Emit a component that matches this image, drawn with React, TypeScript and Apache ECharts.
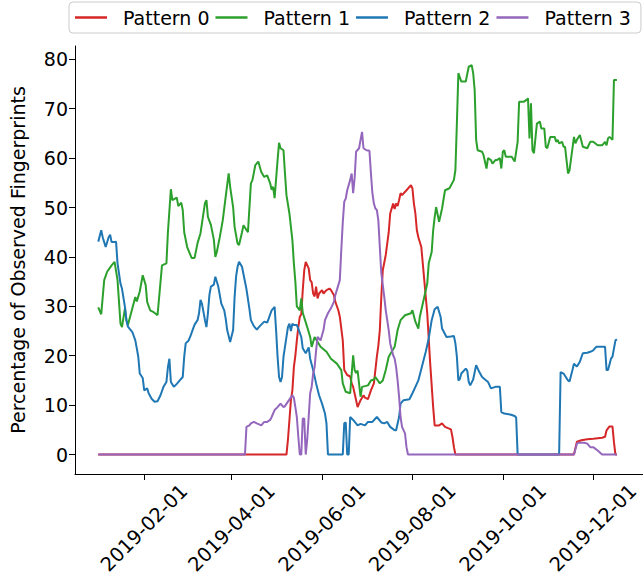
import React, { useEffect, useRef } from "react";
import * as echarts from "echarts";

const DAY_MS = 86400000;
const START = Date.UTC(2019, 0, 1);

const seriesNames = ["Pattern 0", "Pattern 1", "Pattern 2", "Pattern 3"];
const seriesColors = ["#d62728", "#2ca02c", "#1f77b4", "#9467bd"];
const xTickLabels = ["2019-02-01", "2019-04-01", "2019-06-01", "2019-08-01", "2019-10-01", "2019-12-01"];
const yTicks = [0, 10, 20, 30, 40, 50, 60, 70, 80];
const yTitle = "Percentage of Observed Fingerprints";

// [day of year (0 = 2019-01-01), percent]
const pattern0 = [[0,0],[127,0],[128,3],[129,7],[130,11],[131,13],[132,17.7],[133,20],[134,23.1],[135,25.8],[136,27.9],[137,28.4],[138,33.3],[139,37.3],[140,39],[142,37.7],[143,35.3],[144,34.9],[145,32.6],[146,32],[147,34],[148,31.6],[149,32.6],[151,33.3],[152,32.6],[154,33.3],[156,33.6],[157,33.3],[159,32.3],[160,30.9],[162,29.2],[163,27.9],[165,23.1],[166,17.1],[168,16.1],[170,15.8],[171,14.4],[172,13.7],[174,11],[175,9.6],[177,11],[179,12],[180,11.5],[182,11.2],[184,13],[186,14.4],[187,17.1],[188,19.8],[189,22],[190,25.2],[191,31.9],[192,37.3],[194,40.4],[195,42.7],[196,45],[197,48.8],[199,50.8],[200,49.7],[201,50.8],[202,50.3],[203,51.5],[204,52.9],[205,52.5],[208,53.5],[210,54.2],[211,54.5],[212,53.9],[213,50.8],[214,48.8],[215,45.4],[216,44],[218,42],[220,35.3],[222,28.6],[224,18.4],[226,9.6],[227,5.9],[230,5.9],[232,6.3],[234,5.6],[238,5.1],[239,3.6],[240,1.5],[241,0],[321,0],[323,2.6],[326,2.9],[330,3.1],[334,3.2],[340,3.4],[342,3.6],[343,4.9],[345,5.7],[347,5.7],[348,2.5],[349,0],[350,0]];

const pattern1 = [[0,29.8],[2,28.4],[4,35.3],[6,37],[9,38.3],[11,39],[13,35.3],[15,26.5],[16,25.8],[18,29.6],[19,27.2],[20,26.2],[23,29.6],[25,31.9],[26,31],[28,33],[30,36.3],[32,34.3],[33,30.9],[35,29.2],[37,28.9],[40,28.2],[43,38.3],[46,38.7],[47,45],[49,53.7],[50,51.5],[53,52],[54,50.3],[56,51],[57,49.5],[58,45],[60,42],[63,39.8],[65,39.8],[67,42.8],[69,44.8],[72,50.9],[73,51.5],[74,48.1],[76,46.5],[78,43.5],[79,40],[80,41],[82,44],[84,47.4],[86,52.2],[88,56.9],[89,54.2],[91,50.1],[92,46.1],[94,42.7],[95,42.4],[97,45],[98,46.4],[101,45],[103,54.9],[104,55.5],[106,58.6],[108,59.3],[110,57.2],[112,56.2],[114,56.5],[116,54.9],[117,53.6],[118,54.2],[119,51.9],[121,59.6],[122,63.1],[123,62],[125,61.6],[126,56.9],[127,52.5],[129,48.8],[131,43.4],[132,38.7],[133,35],[134,30],[136,29.2],[137,31.6],[138,28.7],[141,25.8],[143,23.8],[144,21.8],[146,23.8],[150,21.8],[154,20.8],[157,19.4],[161,18.4],[164,17.1],[165,14.4],[167,12.7],[170,12.4],[172,20.1],[173,17.1],[174,16.5],[175,17],[177,11.7],[178,13.7],[182,14],[184,15],[186,15.2],[187,15.7],[190,14.4],[192,15],[194,17.1],[196,19.8],[200,21.8],[202,25.2],[204,27.2],[207,28.2],[211,28.6],[212,29.2],[214,26.9],[216,25.5],[217,27.9],[220,31.9],[222,34.6],[223,38.7],[225,41],[226,45.4],[227,48],[228,50.1],[230,47.1],[232,49.8],[234,53.5],[237,53.9],[240,55.6],[241,57.6],[242,67],[243,77.2],[245,75.5],[248,75.5],[250,78.5],[252,78.8],[253,77.2],[254,73.8],[255,63.7],[256,61.6],[259,61.3],[260,60.6],[262,57.9],[263,60],[265,59.6],[266,58.9],[268,59.6],[269,59.6],[271,60],[272,57.9],[273,61.3],[274,61.6],[275,60.3],[279,60.3],[281,59.3],[283,63.3],[284,71.4],[287,71.4],[289,71.8],[290,72.1],[291,64],[292,71.1],[293,61.6],[294,61],[296,67],[298,67.4],[299,66],[301,66],[302,62.3],[303,62],[305,64.3],[308,64.3],[309,63.3],[310,63.7],[311,63],[313,63.3],[314,62.3],[315,62.3],[317,56.9],[318,57.5],[320,62],[321,64.3],[322,63],[323,63.7],[325,64.7],[327,62.3],[330,62],[332,63.3],[334,63.3],[337,62.6],[340,62.6],[342,63.3],[343,62.6],[344,64],[345,64.3],[347,63.7],[348,75.8],[350,75.8]];

const pattern2 = [[0,43.1],[2,45.4],[3,44],[5,42],[7,44],[8,44.5],[9,43],[11,43],[12,43.1],[13,38.7],[15,34.6],[16,33.6],[18,29.9],[19,27.2],[20,25.9],[23,24.8],[25,23.1],[26,21.5],[27,19.8],[28,16.4],[30,15.5],[31,13],[33,13.4],[34,12.4],[36,11.3],[38,10.7],[40,10.8],[42,12],[44,13.7],[46,14.7],[47,17.7],[48,19.4],[49,14.7],[51,13.7],[53,14.3],[55,15],[57,15.7],[58,19.8],[59,22.5],[61,23.1],[62,23.8],[64,25.5],[65,26.3],[67,27.2],[68,28.6],[69,31.3],[70,30.5],[72,27.2],[73,25.8],[74,28.6],[75,32.3],[76,34],[78,34.4],[79,36],[81,34],[82,32.3],[83,30.6],[85,29.2],[86,27.5],[87,25.2],[89,22.8],[91,25.2],[92,31.9],[93,36],[94,38],[95,39],[97,38],[98,36.5],[100,33.5],[102,29.5],[103,27.2],[105,26],[107,25.3],[109,26],[112,26.9],[114,26.7],[115,27.5],[117,29.2],[119,29.9],[120,25.2],[121,19.8],[122,15.7],[123,14.7],[124,15.7],[125,19.8],[126,21.8],[128,25.8],[129,26.5],[130,25],[131,26.5],[132,26.2],[134,26.2],[135,25.5],[137,23.8],[138,21.5],[140,20.5],[142,21.7],[143,19.4],[145,17.1],[147,14.4],[149,12],[151,10.3],[153,8.3],[154,6.3],[155,0],[165,0],[166,6.3],[167,6.5],[168,0],[169,0],[170,7.6],[172,7],[175,5.9],[177,6.2],[180,5.9],[182,6.6],[185,6.6],[188,7.6],[191,6.5],[193,6.3],[195,6.6],[197,5.6],[200,4.9],[201,4.9],[203,7.6],[204,10.3],[206,11],[210,11.2],[212,12.4],[214,13.7],[216,15],[219,18.5],[221,20.8],[223,23.5],[225,27.2],[227,29.4],[229,29.9],[231,27.9],[232,25.5],[235,23.8],[238,23.9],[240,24],[241,22.5],[242,19.8],[243,15],[244,15.3],[245,16.4],[248,17.4],[249,17],[250,14.7],[251,14],[253,15.2],[255,18.1],[257,16.8],[259,15.7],[261,15.2],[263,14.7],[265,13.4],[268,13.7],[271,13.7],[272,8.6],[274,8.3],[278,8.1],[281,7.8],[282,7.5],[283,0],[311,0],[312,16.7],[314,16.4],[317,15],[318,14.8],[320,17.1],[321,18.4],[323,17.8],[325,18.8],[327,20.5],[330,20.6],[332,20.8],[334,21.1],[336,21.8],[339,21.8],[342,21.8],[343,17.1],[344,17.1],[346,19.4],[347,19.8],[349,23.1],[350,23.3]];

const pattern3 = [[0,0],[99,0],[100,5.6],[102,5.9],[103,6.3],[105,6.6],[107,6.3],[110,5.9],[112,6.6],[114,6.6],[116,7],[117,7.6],[119,9],[121,9.6],[123,10.3],[125,9.6],[126,9.8],[128,10.7],[131,12],[132,11.5],[133,9.6],[134,7.6],[135,3.6],[136,0],[137,0],[138,7.3],[139,7.3],[140,0],[141,3],[142,7.6],[143,12.4],[144,13.7],[145,16.4],[146,17.7],[147,21.1],[148,23.8],[150,23.1],[152,25.2],[153,27.2],[155,28.6],[157,29.6],[159,30.9],[160,32.3],[162,34.3],[163,35.3],[164,41.4],[165,47],[166,51.2],[167,51.8],[168,53.5],[170,55.6],[171,56.9],[172,52.9],[173,56],[174,61.3],[176,62],[177,63.7],[178,65.3],[179,62],[181,61.6],[183,61.5],[184,56.9],[185,52.9],[186,50.8],[187,49.8],[188,49.5],[189,47.4],[190,42],[191,36.7],[193,31.9],[194,29.2],[195,27.2],[196,25.2],[197,22.5],[199,20.1],[200,19.4],[201,17.7],[202,15],[203,11.7],[204,7.6],[205,5.6],[207,4.3],[208,1.5],[209,0],[321,0],[323,2.2],[324,2.4],[328,2.4],[330,2.2],[332,1.5],[334,1.5],[337,0.8],[340,0],[350,0]];

const allPatterns = [pattern0, pattern1, pattern2, pattern3];

const FONT = "DejaVu Sans";

export default function App() {
  const ref = useRef<HTMLDivElement>(null);
  useEffect(() => {
    if (!ref.current) return;
    const chart = echarts.init(ref.current, null, { renderer: "svg" });
    const xTickDays = xTickLabels.map((s) => (Date.parse(s + "T00:00:00Z") - START) / DAY_MS);
    const dayToLabel = (d: number) => new Date(START + Math.round(d) * DAY_MS).toISOString().slice(0, 10);
    chart.setOption({
      animation: false,
      backgroundColor: "#ffffff",
      textStyle: { fontFamily: FONT },
      legend: {
        data: seriesNames,
        left: 69,
        top: 2,
        padding: [6, 10, 6, 6],
        itemGap: 6,
        itemWidth: 32,
        itemHeight: 2.5,
        icon: "rect",
        borderColor: "#cccccc",
        borderWidth: 1,
        borderRadius: 4,
        textStyle: { fontFamily: FONT, fontSize: 19, color: "#000", padding: [0, 0, 0, 11] },
      },
      grid: { left: 69, right: 0, top: 46, bottom: 105, containLabel: false },
      xAxis: {
        type: "value",
        min: -15.7,
        max: 367.6,
        axisLine: { show: true, onZero: false, lineStyle: { color: "#000", width: 1 } },
        axisTick: { show: true, length: 6, lineStyle: { color: "#000", width: 1 }, customValues: xTickDays },
        axisLabel: {
          customValues: xTickDays,
          rotate: 45,
          align: "center",
          verticalAlign: "middle",
          margin: 54,
          fontFamily: FONT,
          fontSize: 19.5,
          color: "#000",
          formatter: (v: number) => dayToLabel(v),
        },
        splitLine: { show: false },
      },
      yAxis: {
        type: "value",
        min: -3.94,
        max: 82.7,
        name: yTitle,
        nameLocation: "middle",
        nameGap: 48,
        nameRotate: 90,
        nameTextStyle: { fontFamily: FONT, fontSize: 19, color: "#000" },
        axisLine: { show: true, onZero: false, lineStyle: { color: "#000", width: 1 } },
        axisTick: { show: true, length: 6, lineStyle: { color: "#000", width: 1 }, customValues: yTicks },
        axisLabel: { customValues: yTicks, fontFamily: FONT, fontSize: 19, color: "#000", margin: 7 },
        splitLine: { show: false },
      },
      series: allPatterns.map((pts, i) => ({
        name: seriesNames[i],
        type: "line",
        symbol: "none",
        showSymbol: false,
        color: seriesColors[i],
        lineStyle: { width: 2, color: seriesColors[i] },
        data: pts,
      })),
    });
    return () => chart.dispose();
  }, []);
  return (
    <div
      ref={ref}
      style={{ position: "fixed", left: 0, top: 0, width: 643, height: 579, background: "#fff" }}
    />
  );
}
